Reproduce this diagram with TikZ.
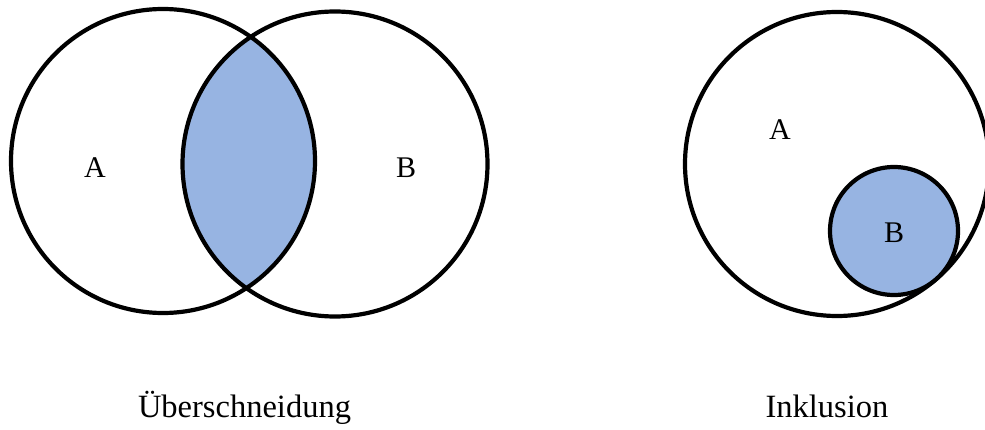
\documentclass[tikz,border=0pt]{standalone}
\usepackage{fontspec}
\setmainfont{Liberation Serif}
\definecolor{setblue}{RGB}{151,180,226}
\begin{document}
\begin{tikzpicture}[x=1pt,y=-1pt,
  ring/.style={draw=black,line width=4.2pt},
  setlabel/.style={font=\fontsize{30}{30}\selectfont,inner sep=0pt},
  caption/.style={font=\fontsize{32.5}{32.5}\selectfont,inner sep=0pt}]
\useasboundingbox (0,0) rectangle (985,430);
% Ueberschneidung
\coordinate (cA) at (163,161);
\coordinate (cB) at (335,164);
\begin{scope}
  \clip (cA) circle[radius=152];
  \fill[setblue] (cB) circle[radius=152.5];
\end{scope}
\draw[ring] (cA) circle[radius=152];
\draw[ring] (cB) circle[radius=152.5];
\node[setlabel] (la) at (95,168) {A};
\node[setlabel] (lb) at (406,168) {B};
\node[caption,anchor=base] (cap1) at (244.5,417) {Überschneidung};
% Inklusion
\coordinate (cC) at (837,164);
\coordinate (cD) at (894,231);
\draw[ring] (cC) circle[radius=152];
\draw[ring,fill=setblue] (cD) circle[radius=64];
\node[setlabel] (la2) at (780,130) {A};
\node[setlabel] (lb2) at (894,233) {B};
\node[caption,anchor=base] (cap2) at (827,417) {Inklusion};
\end{tikzpicture}
\end{document}
